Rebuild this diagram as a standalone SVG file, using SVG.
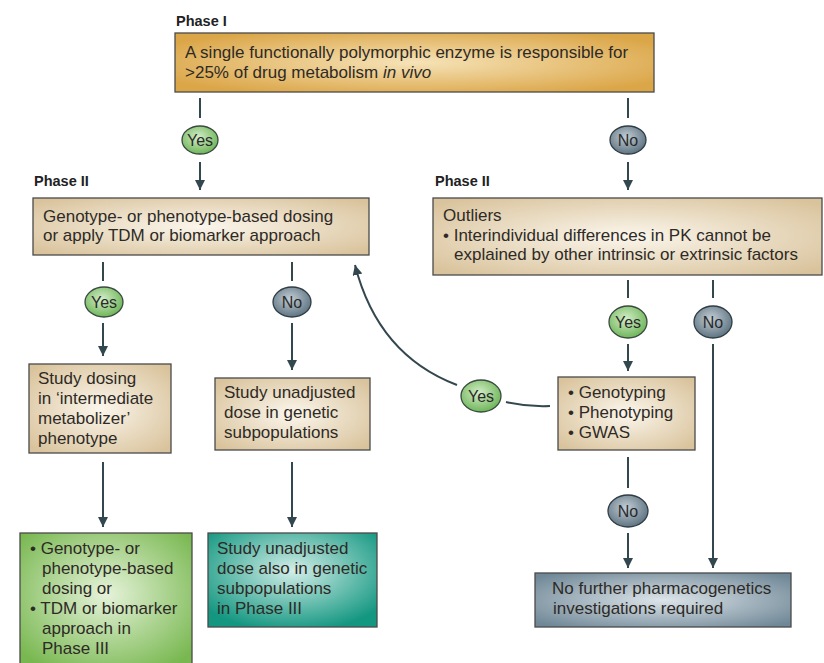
<svg xmlns="http://www.w3.org/2000/svg" width="824" height="663" viewBox="0 0 824 663">
<defs>
<radialGradient id="gOrange" cx="50%" cy="50%" r="60%"><stop offset="0" stop-color="#f6e3b8"/><stop offset="1" stop-color="#dba648"/></radialGradient>
<radialGradient id="gBeige" cx="50%" cy="50%" r="65%"><stop offset="0" stop-color="#fbf6ec"/><stop offset="1" stop-color="#d9c39c"/></radialGradient>
<radialGradient id="gGreen" cx="50%" cy="45%" r="65%"><stop offset="0" stop-color="#e6f3da"/><stop offset="1" stop-color="#79b851"/></radialGradient>
<radialGradient id="gTeal" cx="50%" cy="40%" r="65%"><stop offset="0" stop-color="#d2eee8"/><stop offset="1" stop-color="#149781"/></radialGradient>
<radialGradient id="gGrey" cx="50%" cy="50%" r="65%"><stop offset="0" stop-color="#dde5ea"/><stop offset="1" stop-color="#6f8796"/></radialGradient>
<radialGradient id="gYes" cx="45%" cy="40%" r="60%"><stop offset="0" stop-color="#d4edc8"/><stop offset="1" stop-color="#6fb65a"/></radialGradient>
<radialGradient id="gNo" cx="45%" cy="40%" r="60%"><stop offset="0" stop-color="#c3ced5"/><stop offset="1" stop-color="#5f7482"/></radialGradient>
<marker id="arr" markerUnits="userSpaceOnUse" markerWidth="12" markerHeight="12" refX="10" refY="5" orient="auto"><path d="M0,0 L10,5 L0,10 Z" fill="#33474f"/></marker>
</defs>
<style>
.box{stroke:#4a4a4a;stroke-width:1.3}
.t{font-family:"Liberation Sans",Arial,sans-serif;font-size:17px;fill:#2e2a26}
.ph{font-family:"Liberation Sans",Arial,sans-serif;font-size:14.5px;font-weight:bold;fill:#222}
.lbl{font-family:"Liberation Sans",Arial,sans-serif;font-size:16px;fill:#2a2a2a;text-anchor:middle}
.c{stroke:#33474f;stroke-width:2;fill:none}
.a{marker-end:url(#arr)}
.yes{fill:url(#gYes);stroke:#3a4a40;stroke-width:1.3}
.no{fill:url(#gNo);stroke:#2f3d45;stroke-width:1.3}
</style>
<rect width="824" height="663" fill="#ffffff"/>

<text class="ph" x="176" y="26">Phase I</text>
<text class="ph" x="34" y="186">Phase II</text>
<text class="ph" x="435" y="186">Phase II</text>

<g id="connectors">
<line class="c" x1="200" y1="98" x2="200" y2="118"/>
<line class="c a" x1="200" y1="162" x2="200" y2="190"/>
<line class="c" x1="628" y1="98" x2="628" y2="118"/>
<line class="c a" x1="628" y1="162" x2="628" y2="190"/>
<line class="c" x1="103" y1="262" x2="103" y2="281"/>
<line class="c a" x1="103" y1="323" x2="103" y2="356"/>
<line class="c" x1="292" y1="262" x2="292" y2="281"/>
<line class="c a" x1="292" y1="323" x2="292" y2="370"/>
<line class="c a" x1="103" y1="462" x2="103" y2="527"/>
<line class="c a" x1="292" y1="462" x2="292" y2="527"/>
<line class="c" x1="628" y1="280" x2="628" y2="298"/>
<line class="c a" x1="628" y1="344" x2="628" y2="371"/>
<line class="c" x1="713" y1="280" x2="713" y2="298"/>
<line class="c a" x1="713" y1="344" x2="713" y2="568"/>
<line class="c" x1="628" y1="457" x2="628" y2="488"/>
<line class="c a" x1="628" y1="533" x2="628" y2="568"/>
<path class="c" d="M506,402 Q528,407 550,406"/>
<path class="c a" d="M457,385 Q378,355 355,265"/>
</g>

<g id="n-phase1">
<rect class="box" x="175" y="33" width="479" height="59" fill="url(#gOrange)"/>
<text class="t" x="185" y="58">A single functionally polymorphic enzyme is responsible for</text>
<text class="t" x="185" y="78">&gt;25% of drug metabolism <tspan font-style="italic">in vivo</tspan></text>
</g>

<g id="n-yes1"><ellipse class="yes" cx="200" cy="140" rx="18" ry="14"/><text class="lbl" x="200" y="146">Yes</text></g>
<g id="n-no1"><ellipse class="no" cx="628" cy="140" rx="18" ry="14"/><text class="lbl" x="628" y="146">No</text></g>

<g id="n-dosing">
<rect class="box" x="33" y="198" width="336" height="57" fill="url(#gBeige)"/>
<text class="t" x="43" y="222">Genotype- or phenotype-based dosing</text>
<text class="t" x="43" y="241">or apply TDM or biomarker approach</text>
</g>

<g id="n-outliers">
<rect class="box" x="433" y="198" width="389" height="77" fill="url(#gBeige)"/>
<text class="t" x="443" y="221">Outliers</text>
<text class="t" x="443" y="241">• Interindividual differences in PK cannot be</text>
<text class="t" x="454" y="260">explained by other intrinsic or extrinsic factors</text>
</g>

<g id="n-yes2"><ellipse class="yes" cx="104" cy="302" rx="19" ry="15"/><text class="lbl" x="104" y="308">Yes</text></g>
<g id="n-no2"><ellipse class="no" cx="292" cy="302" rx="19" ry="15"/><text class="lbl" x="292" y="308">No</text></g>
<g id="n-yes3"><ellipse class="yes" cx="628" cy="322" rx="19" ry="16"/><text class="lbl" x="628" y="328">Yes</text></g>
<g id="n-no3"><ellipse class="no" cx="713" cy="322" rx="19" ry="16"/><text class="lbl" x="713" y="328">No</text></g>

<g id="n-intermediate">
<rect class="box" x="29" y="364" width="142" height="89" fill="url(#gBeige)"/>
<text class="t" x="38" y="384">Study dosing</text>
<text class="t" x="38" y="404">in ‘intermediate</text>
<text class="t" x="38" y="424">metabolizer’</text>
<text class="t" x="38" y="444">phenotype</text>
</g>

<g id="n-unadjusted">
<rect class="box" x="215" y="378" width="155" height="72" fill="url(#gBeige)"/>
<text class="t" x="224" y="398">Study unadjusted</text>
<text class="t" x="224" y="418">dose in genetic</text>
<text class="t" x="224" y="438">subpopulations</text>
</g>

<g id="n-yes4"><ellipse class="yes" cx="481" cy="396" rx="20" ry="16"/><text class="lbl" x="481" y="402">Yes</text></g>

<g id="n-genotyping">
<rect class="box" x="558" y="377" width="137" height="73" fill="url(#gBeige)"/>
<text class="t" x="568" y="398">• Genotyping</text>
<text class="t" x="568" y="418">• Phenotyping</text>
<text class="t" x="568" y="438">• GWAS</text>
</g>

<g id="n-no4"><ellipse class="no" cx="628" cy="511" rx="20" ry="16"/><text class="lbl" x="628" y="517">No</text></g>

<g id="n-phase3a">
<rect class="box" x="20" y="533" width="172" height="136" fill="url(#gGreen)"/>
<text class="t" x="30" y="554">• Genotype- or</text>
<text class="t" x="42" y="574">phenotype-based</text>
<text class="t" x="42" y="594">dosing or</text>
<text class="t" x="30" y="614">• TDM or biomarker</text>
<text class="t" x="42" y="634">approach in</text>
<text class="t" x="42" y="654">Phase III</text>
</g>

<g id="n-phase3b">
<rect class="box" x="208" y="533" width="169" height="94" fill="url(#gTeal)"/>
<text class="t" x="217" y="554">Study unadjusted</text>
<text class="t" x="217" y="574">dose also in genetic</text>
<text class="t" x="217" y="594">subpopulations</text>
<text class="t" x="217" y="614">in Phase III</text>
</g>

<g id="n-nofurther">
<rect class="box" x="535" y="573" width="256" height="54" fill="url(#gGrey)"/>
<text class="t" x="552" y="594">No further pharmacogenetics</text>
<text class="t" x="553" y="614">investigations required</text>
</g>
</svg>
